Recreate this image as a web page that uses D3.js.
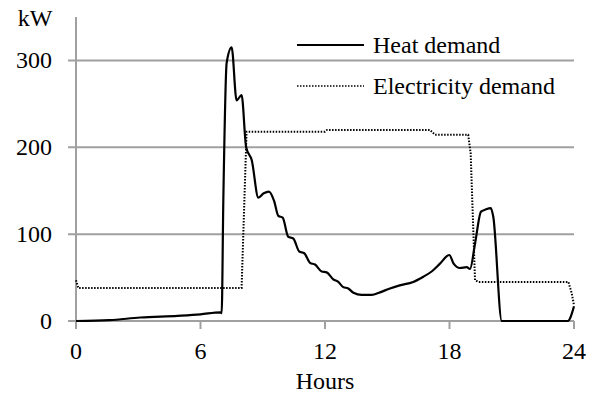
<!DOCTYPE html>
<html>
<head>
<meta charset="utf-8">
<script src="https://cdn.jsdelivr.net/npm/d3@7"></script>
<style>
  body { margin: 0; background: #fff; }
</style>
</head>
<body>
<svg id="chart" width="596" height="394" font-family="'Liberation Serif', 'Times New Roman', 'DejaVu Serif', serif"></svg>
<script>
// hours / kW
var heatHours = [0, 1.6, 3.1, 4.9, 6.0, 6.95, 7.02, 7.1, 7.26, 7.5, 7.74, 7.98, 8.2, 8.47, 8.79, 9.05, 9.3, 9.55, 9.75, 9.96, 10.23, 10.47, 10.76, 11.0, 11.28, 11.52, 11.84, 12.08, 12.4, 12.64, 12.88, 13.12, 13.37, 13.77, 14.25, 14.65, 15.13, 15.6, 16.25, 16.74, 17.14, 17.54, 17.99, 18.2, 18.5, 18.83, 18.99, 19.23, 19.52, 19.71, 19.99, 20.11, 20.52, 20.7, 23.7, 24];
var heatKw    = [0, 1, 4, 6, 7.7, 10, 9, 139, 297, 315, 254, 260, 200, 185, 142, 147, 149, 138, 121, 119, 97, 95, 80, 78, 67, 65, 57, 56, 48, 45, 39, 37.5, 32.5, 30, 30, 33, 37.5, 41, 45, 51, 57, 66, 76, 66, 61, 62, 60, 89, 126, 128, 130, 120, 0, 0, 0, 17];

var elecHours = [0, 0.11, 7.98, 8.22, 12.0, 12.1, 17.06, 17.3, 18.9, 19.02, 19.23, 19.39, 23.73, 23.89, 24];
var elecKw    = [47, 38, 38, 218, 218, 220, 220, 214.5, 214.5, 193, 47, 45, 45, 32, 18];

var xTicks = [0, 6, 12, 18, 24];
var yTicks = [0, 100, 200, 300];
var seriesNames = ["Heat demand", "Electricity demand"];

var svg = d3.select("#chart");
var x = d3.scaleLinear().domain([0, 24]).range([76, 574]);
var y = d3.scaleLinear().domain([0, 350]).range([321, 17]);
var grey = "#a0a0a0";

// gridlines + y ticks
svg.selectAll("line.grid").data(yTicks).enter().append("line")
  .attr("class", "grid")
  .attr("x1", 68).attr("x2", x(24))
  .attr("y1", function(d) { return y(d); })
  .attr("y2", function(d) { return y(d); })
  .attr("stroke", grey).attr("stroke-width", 2);

svg.selectAll("text.ylab").data(yTicks).enter().append("text")
  .attr("class", "ylab")
  .attr("x", 52).attr("y", function(d) { return y(d) + 8; })
  .attr("text-anchor", "end").attr("font-size", 24)
  .text(function(d) { return d; });

// y axis line
svg.append("line")
  .attr("x1", x(0)).attr("x2", x(0)).attr("y1", y(350)).attr("y2", y(0))
  .attr("stroke", grey).attr("stroke-width", 2);

// x ticks
svg.selectAll("line.xtick").data(xTicks).enter().append("line")
  .attr("class", "xtick")
  .attr("x1", function(d) { return x(d); })
  .attr("x2", function(d) { return x(d); })
  .attr("y1", y(0)).attr("y2", y(0) + 8)
  .attr("stroke", grey).attr("stroke-width", 2);

svg.selectAll("text.xlab").data(xTicks).enter().append("text")
  .attr("class", "xlab")
  .attr("x", function(d) { return x(d); }).attr("y", 359)
  .attr("text-anchor", "middle").attr("font-size", 24)
  .text(function(d) { return d; });

svg.append("text").attr("x", 35).attr("y", 26).attr("text-anchor", "middle")
  .attr("font-size", 24).text("kW");
svg.append("text").attr("x", 325).attr("y", 389).attr("text-anchor", "middle")
  .attr("font-size", 24).text("Hours");

// series
var heat = heatHours.map(function(h, i) { return [h, heatKw[i]]; });
var elec = elecHours.map(function(h, i) { return [h, elecKw[i]]; });

var line = d3.line()
  .x(function(d) { return x(d[0]); })
  .y(function(d) { return y(d[1]); });

svg.append("path").datum(elec)
  .attr("d", line)
  .attr("fill", "none").attr("stroke", "#000")
  .attr("stroke-width", 2).attr("stroke-dasharray", "1.5,1.5");

svg.append("path").datum(heat)
  .attr("d", line.curve(d3.curveMonotoneX))
  .attr("fill", "none").attr("stroke", "#000")
  .attr("stroke-width", 2.2).attr("stroke-linejoin", "round");

// legend
var leg = svg.selectAll("g.leg").data(seriesNames).enter().append("g")
  .attr("class", "leg")
  .attr("transform", function(d, i) { return "translate(297," + (45 + i * 41) + ")"; });
leg.append("line")
  .attr("x1", 0).attr("x2", 67).attr("y1", 0).attr("y2", 0)
  .attr("stroke", "#000")
  .attr("stroke-width", function(d, i) { return i ? 1.6 : 2.2; })
  .attr("stroke-dasharray", function(d, i) { return i ? "1.5,1.5" : null; });
leg.append("text")
  .attr("x", 76).attr("y", 8).attr("font-size", 24)
  .text(function(d) { return d; });
</script>
</body>
</html>
